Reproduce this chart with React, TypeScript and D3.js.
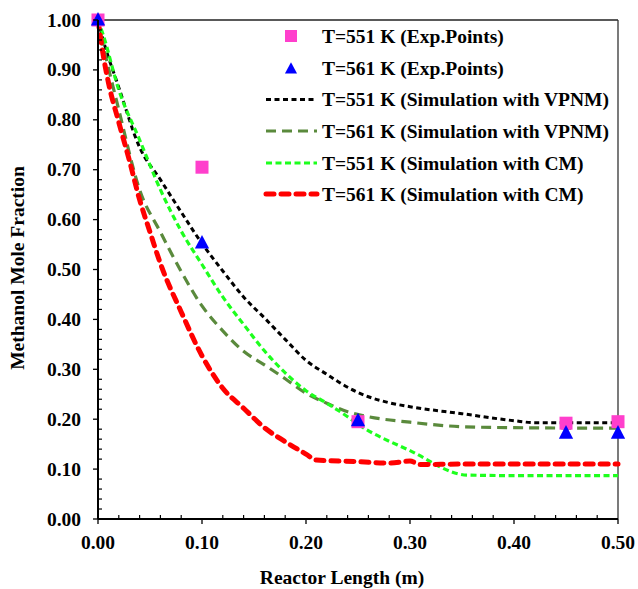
import React from "react";
import * as d3 from "d3";

const xTicks = [0, 0.1, 0.2, 0.3, 0.4, 0.5];
const yTicks = [0, 0.1, 0.2, 0.3, 0.4, 0.5, 0.6, 0.7, 0.8, 0.9, 1.0];

const exp551X = [0, 0.1, 0.25, 0.45, 0.5];
const exp551Y = [1.0, 0.705, 0.195, 0.192, 0.195];
const exp561X = [0, 0.1, 0.25, 0.45, 0.5];
const exp561Y = [1.0, 0.553, 0.197, 0.172, 0.172];

const vpnm551X = [0, 0.005, 0.02, 0.04, 0.06, 0.08, 0.1, 0.12, 0.14, 0.16, 0.18, 0.2, 0.22, 0.24, 0.26, 0.28, 0.3, 0.35, 0.4, 0.42, 0.45, 0.5];
const vpnm551Y = [1.0, 0.96, 0.865, 0.745, 0.68, 0.615, 0.552, 0.497, 0.445, 0.403, 0.36, 0.318, 0.29, 0.264, 0.245, 0.233, 0.225, 0.211, 0.197, 0.193, 0.193, 0.193];

const vpnm561X = [0, 0.005, 0.02, 0.04, 0.06, 0.08, 0.1, 0.12, 0.14, 0.16, 0.18, 0.2, 0.22, 0.24, 0.26, 0.3, 0.35, 0.4, 0.5];
const vpnm561Y = [1.0, 0.95, 0.82, 0.66, 0.575, 0.496, 0.427, 0.377, 0.336, 0.309, 0.281, 0.252, 0.232, 0.215, 0.205, 0.194, 0.185, 0.183, 0.182];

const cm551X = [0, 0.005, 0.02, 0.04, 0.06, 0.08, 0.1, 0.12, 0.14, 0.16, 0.18, 0.2, 0.22, 0.24, 0.25, 0.3, 0.355, 0.4, 0.5];
const cm551Y = [1.0, 0.97, 0.86, 0.76, 0.66, 0.577, 0.51, 0.445, 0.39, 0.337, 0.293, 0.257, 0.232, 0.205, 0.19, 0.137, 0.088, 0.087, 0.087];

const cm561X = [0, 0.005, 0.01, 0.02, 0.03, 0.04, 0.05, 0.06, 0.08, 0.1, 0.12, 0.14, 0.16, 0.18, 0.2, 0.21, 0.25, 0.28, 0.3, 0.31, 0.35, 0.5];
const cm561Y = [1.0, 0.93, 0.875, 0.795, 0.72, 0.64, 0.575, 0.512, 0.415, 0.327, 0.262, 0.222, 0.183, 0.155, 0.13, 0.118, 0.115, 0.112, 0.116, 0.109, 0.11, 0.11];

const legendLabels = [
  "T=551 K (Exp.Points)",
  "T=561 K (Exp.Points)",
  "T=551 K (Simulation with VPNM)",
  "T=561 K (Simulation with VPNM)",
  "T=551 K (Simulation with CM)",
  "T=561 K (Simulation with CM)",
];

const FONT = "'Liberation Serif', 'Times New Roman', serif";
const PINK = "#ff3fcc";
const BLUE = "#0000ff";

export default function App() {
  const W = 638, H = 589;
  const x0 = 98, x1 = 618, y0 = 519, y1 = 20;
  const x = d3.scaleLinear().domain([0, 0.5]).range([x0, x1]);
  const y = d3.scaleLinear().domain([0, 1]).range([y0, y1]);

  const line = d3
    .line<[number, number]>()
    .x((d) => x(d[0]))
    .y((d) => y(d[1]))
    .curve(d3.curveMonotoneX);

  const zip = (a: number[], b: number[]) => a.map((v, i) => [v, b[i]] as [number, number]);

  const series = [
    { d: zip(vpnm551X, vpnm551Y), color: "#000000", width: 3, dash: "5 3.5", cap: "butt" },
    { d: zip(vpnm561X, vpnm561Y), color: "#5a8a3c", width: 3.2, dash: "10 6", cap: "butt" },
    { d: zip(cm551X, cm551Y), color: "#1dff1d", width: 3.2, dash: "6 3.5", cap: "butt" },
    { d: zip(cm561X, cm561Y), color: "#ff0000", width: 5, dash: "8 7", cap: "round" },
  ];

  const minorX = d3.range(0, 0.5001, 0.02).filter((v) => Math.abs(v * 10 - Math.round(v * 10)) > 1e-6);
  const minorY = d3.range(0, 1.0001, 0.02).filter((v) => Math.abs(v * 10 - Math.round(v * 10)) > 1e-6);

  const tri = (cx: number, cy: number, s: number) =>
    `M${cx},${cy - s * 0.62} L${cx + s * 0.55},${cy + s * 0.42} L${cx - s * 0.55},${cy + s * 0.42} Z`;

  const legX = 266, legX2 = 317, legMarkX = 291, legTextX = 322;
  const legY = [36, 68, 99.5, 131, 163, 194];

  return (
    <svg
      width={W}
      height={H}
      style={{ position: "absolute", left: 0, top: 0, background: "#fff" }}
      fontFamily={FONT}
      fontWeight="bold"
    >
      <rect x={0} y={0} width={W} height={H} fill="#fff" />
      {/* frame */}
      <line x1={x0} x2={x1} y1={y1} y2={y1} stroke="#222" strokeWidth={1.3} />
      <line x1={x1} x2={x1} y1={y1} y2={y0} stroke="#333" strokeWidth={1.3} />

      {/* curves */}
      {series.map((s, i) => (
        <path
          key={i}
          d={line(s.d) || ""}
          fill="none"
          stroke={s.color}
          strokeWidth={s.width}
          strokeDasharray={s.dash}
          strokeLinecap={s.cap as any}
        />
      ))}

      {/* experimental points */}
      {exp551X.map((v, i) => (
        <rect key={"s" + i} x={x(v) - 6.5} y={y(exp551Y[i]) - 6.5} width={13} height={13} fill={PINK} />
      ))}
      {exp561X.map((v, i) => (
        <path key={"t" + i} d={tri(x(v), y(exp561Y[i]), 13)} fill={BLUE} />
      ))}

      {/* axes */}
      <line x1={x0} x2={x0} y1={y1} y2={y0} stroke="#000" strokeWidth={2} />
      <line x1={x0} x2={x1} y1={y0} y2={y0} stroke="#000" strokeWidth={2} />
      {yTicks.map((t) => (
        <g key={"yt" + t}>
          <line x1={x0 - 5} x2={x0} y1={y(t)} y2={y(t)} stroke="#000" strokeWidth={1.3} />
          <text x={81} y={y(t) + 6.5} textAnchor="end" fontSize={19.5}>
            {t.toFixed(2)}
          </text>
        </g>
      ))}
      {minorY.map((t) => (
        <line key={"ym" + t} x1={x0} x2={x0 + 4} y1={y(t)} y2={y(t)} stroke="#000" strokeWidth={1.2} />
      ))}
      {xTicks.map((t) => (
        <g key={"xt" + t}>
          <line x1={x(t)} x2={x(t)} y1={y0} y2={y0 + 5} stroke="#000" strokeWidth={1.3} />
          <text x={x(t)} y={548.5} textAnchor="middle" fontSize={19.5}>
            {t.toFixed(2)}
          </text>
        </g>
      ))}
      {minorX.map((t) => (
        <line key={"xm" + t} x1={x(t)} x2={x(t)} y1={y0} y2={y0 - 4} stroke="#000" strokeWidth={1.2} />
      ))}

      {/* axis titles */}
      <text x={342} y={584} textAnchor="middle" fontSize={19.5}>
        Reactor Length (m)
      </text>
      <text transform={`translate(24,268) rotate(-90)`} textAnchor="middle" fontSize={19.5}>
        Methanol Mole Fraction
      </text>

      {/* legend */}
      <rect x={legMarkX - 6} y={legY[0] - 6} width={12} height={12} fill={PINK} />
      <path d={tri(legMarkX, legY[1] + 1, 11)} fill={BLUE} />
      {series.map((s, i) => (
        <line
          key={"lg" + i}
          x1={legX}
          x2={legX2}
          y1={legY[i + 2]}
          y2={legY[i + 2]}
          stroke={s.color}
          strokeWidth={s.width}
          strokeDasharray={s.dash}
          strokeLinecap={s.cap as any}
        />
      ))}
      {legendLabels.map((l, i) => (
        <text key={"lt" + i} x={legTextX} y={legY[i] + 6.5} fontSize={19.5}>
          {l}
        </text>
      ))}
    </svg>
  );
}
